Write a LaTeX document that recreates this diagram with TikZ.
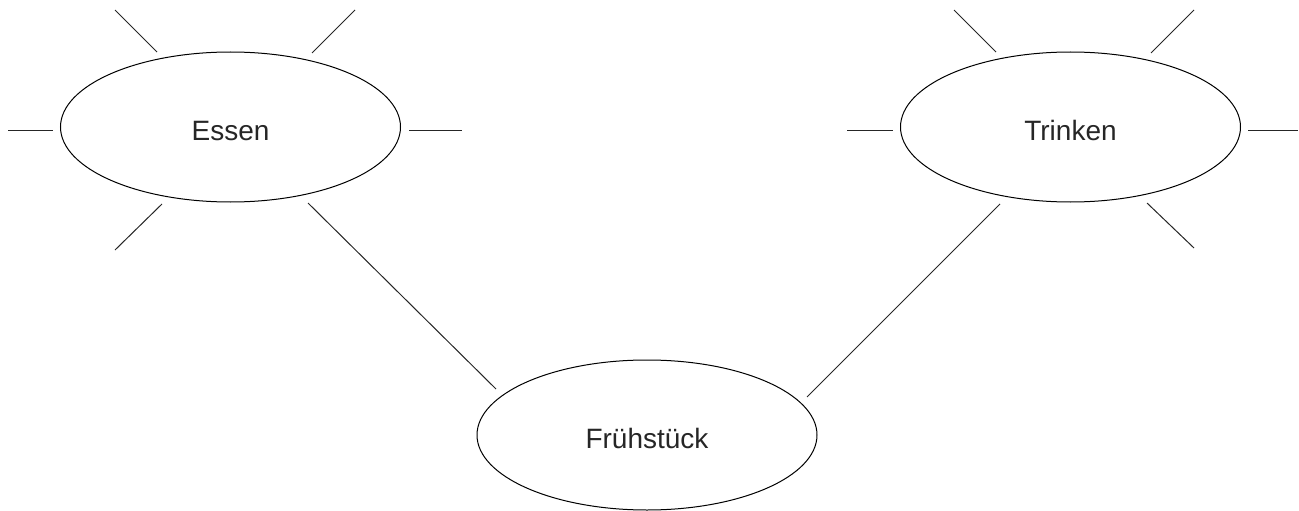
\documentclass[tikz,border=0pt]{standalone}
\usepackage{fontspec}
\setmainfont{Liberation Sans}
\usepackage{tikz}
\usetikzlibrary{shapes.geometric}

\tikzset{
    topic/.style={draw, ellipse, line width=1pt, minimum width=340pt, minimum height=150pt, inner sep=0pt,
        text height=26pt, text depth=0pt, font=\fontsize{28}{34}\selectfont, text=black!85},
    ray/.style={line width=1pt, draw=black!85}
}

\begin{document}
\begin{tikzpicture}[x=1pt, y=-1pt]
    \useasboundingbox (0, 0) rectangle (1299, 511);

    \node[topic] at (230.5, 127) (essen) {Essen};
    \node[topic] at (1070.5, 127) (trinken) {Trinken};
    \node[topic] at (647, 435) (fruehstueck) {Frühstück};

    % rays round Essen
    \draw[ray] ([shift={(-222.5, 3)}]essen.center) -- ([shift={(-177.5, 3)}]essen.center);
    \draw[ray] ([shift={(178.5, 3)}]essen.center) -- ([shift={(231.5, 3)}]essen.center);
    \draw[ray] ([shift={(-73.5, -75)}]essen.center) -- ([shift={(-115.5, -117)}]essen.center);
    \draw[ray] ([shift={(81.5, -74)}]essen.center) -- ([shift={(124.5, -117)}]essen.center);
    \draw[ray] ([shift={(-68.5, 77)}]essen.center) -- ([shift={(-115.5, 123)}]essen.center);

    % rays round Trinken
    \draw[ray] ([shift={(-223.5, 3)}]trinken.center) -- ([shift={(-177.5, 3)}]trinken.center);
    \draw[ray] ([shift={(177.5, 3)}]trinken.center) -- ([shift={(227.5, 3)}]trinken.center);
    \draw[ray] ([shift={(-74.5, -75)}]trinken.center) -- ([shift={(-116.5, -117)}]trinken.center);
    \draw[ray] ([shift={(80.5, -74)}]trinken.center) -- ([shift={(123.5, -117)}]trinken.center);
    \draw[ray] ([shift={(76.5, 76)}]trinken.center) -- ([shift={(123.5, 121)}]trinken.center);

    \draw[ray] ([shift={(77.5, 76)}]essen.center) -- ([shift={(-151, -46)}]fruehstueck.center);
    \draw[ray] ([shift={(-70.5, 77)}]trinken.center) -- ([shift={(160, -38)}]fruehstueck.center);
\end{tikzpicture}
\end{document}
